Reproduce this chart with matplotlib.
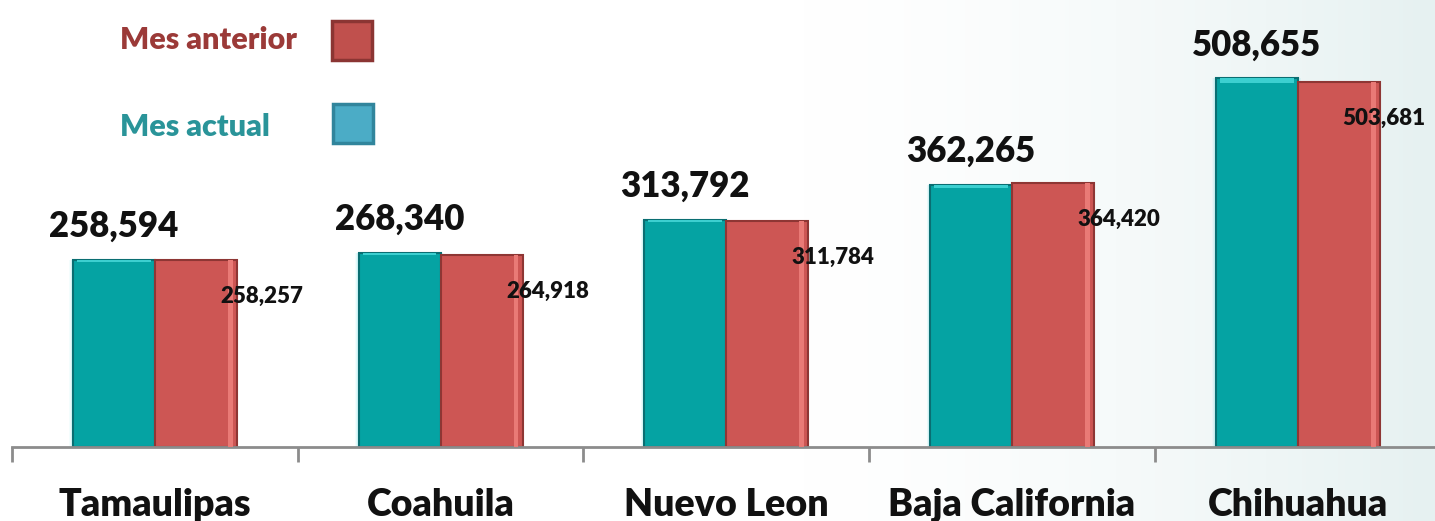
import numpy as np
import matplotlib
matplotlib.use("Agg")
import matplotlib.pyplot as plt

# data
estados = ["Tamaulipas", "Coahuila", "Nuevo Leon", "Baja California", "Chihuahua"]
mes_actual = [258594, 268340, 313792, 362265, 508655]
mes_anterior = [258257, 264918, 311784, 364420, 503681]

teal = "#05A3A3"
teal_edge = "#0A6E72"
red = "#CD5654"
red_edge = "#8E3634"

plt.rcParams["font.family"] = ["Lato", "DejaVu Sans"]

fig = plt.figure(figsize=(14.35, 5.21), dpi=100)

# faint background wash on the right side
bg = fig.add_axes([0, 0, 1, 1], zorder=-5)
grad = np.linspace(0, 1, 400)
grad = np.clip((grad - 0.55) / 0.45, 0, 1) ** 1.5
bg.imshow(grad[np.newaxis, :], aspect="auto", extent=[0, 1, 0, 1],
          cmap=matplotlib.colors.LinearSegmentedColormap.from_list("w", ["#FFFFFF", "#E6F1F1"]))
bg.axis("off")

ax = fig.add_axes([12 / 1435, 74 / 521, 1428.5 / 1435, 447 / 521])
ax.patch.set_alpha(0)

x = np.arange(len(estados))
w = 0.287

# soft glow behind the teal bars
for k in range(6, 0, -1):
    ax.bar(x - w / 2, mes_actual, width=w + 0.004 * k, color="#7FE6F0",
           alpha=0.08, linewidth=0, zorder=1)

ax.bar(x - w / 2, mes_actual, width=w, color=teal, edgecolor=teal_edge,
       linewidth=1.5, zorder=2)
ax.bar(x + w / 2, mes_anterior, width=w, color=red, edgecolor=red_edge,
       linewidth=1.5, zorder=2)

# small bevel highlights
ax.bar(x - w / 2, [v * 0.012 for v in mes_actual], bottom=[v * 0.988 for v in mes_actual],
       width=w * 0.9, color="#3CCFD0", linewidth=0, zorder=3)
ax.bar(x + w / 2 + w * 0.42, mes_anterior, width=w * 0.06, color="#E97A76",
       linewidth=0, zorder=3)

ax.set_xlim(-0.5, len(estados) - 0.5)
ax.set_ylim(0, 617000)

for xi, v in zip(x, mes_actual):
    ax.annotate(f"{v:,}", (xi - w / 2, v), xytext=(0, 12), textcoords="offset points",
                ha="center", va="bottom", fontsize=25, fontweight="heavy", color="#111111")
for i, (xi, v) in enumerate(zip(x, mes_anterior)):
    last = i == len(mes_anterior) - 1
    ax.annotate(f"{v:,}", (xi + w, v), xytext=(33 if last else 18, -26),
                textcoords="offset points", ha="right" if last else "center",
                va="center", fontsize=16, fontweight="heavy", color="#111111")

# category labels under the axis
for xi, name in zip(x, estados):
    ax.annotate(name, (xi, 0), xytext=(0, -49.5), textcoords="offset points",
                ha="center", va="baseline", fontsize=27, fontweight="heavy",
                color="#111111", annotation_clip=False)

for s in ["top", "right", "left"]:
    ax.spines[s].set_visible(False)
ax.spines["bottom"].set_color("#8C8C8C")
ax.spines["bottom"].set_linewidth(2)
ax.set_yticks([])

ax.set_xticks([])
ax.set_xticks(np.arange(-0.5, len(estados)), minor=True)
ax.tick_params(axis="x", which="minor", length=11, width=2, color="#8C8C8C", direction="out")

# legend drawn as figure text + squares
fig.text(120 / 1435, 1 - 40 / 521, "Mes anterior", fontsize=22, fontweight="heavy",
         color="#9B3A38", ha="left", va="center")
fig.text(120 / 1435, 1 - 127 / 521, "Mes actual", fontsize=22, fontweight="heavy",
         color="#2A9499", ha="left", va="center")
fig.patches.append(matplotlib.patches.FancyBboxPatch(
    (332 / 1435, 1 - 60 / 521), 40 / 1435, 39 / 521, boxstyle="square,pad=0",
    transform=fig.transFigure, facecolor="#C0504D", edgecolor="#8B3533", linewidth=2.5))
fig.patches.append(matplotlib.patches.FancyBboxPatch(
    (333 / 1435, 1 - 143 / 521), 40 / 1435, 39 / 521, boxstyle="square,pad=0",
    transform=fig.transFigure, facecolor="#4BACC6", edgecolor="#31859C", linewidth=2.5))

fig.savefig("out.png", dpi=100)
